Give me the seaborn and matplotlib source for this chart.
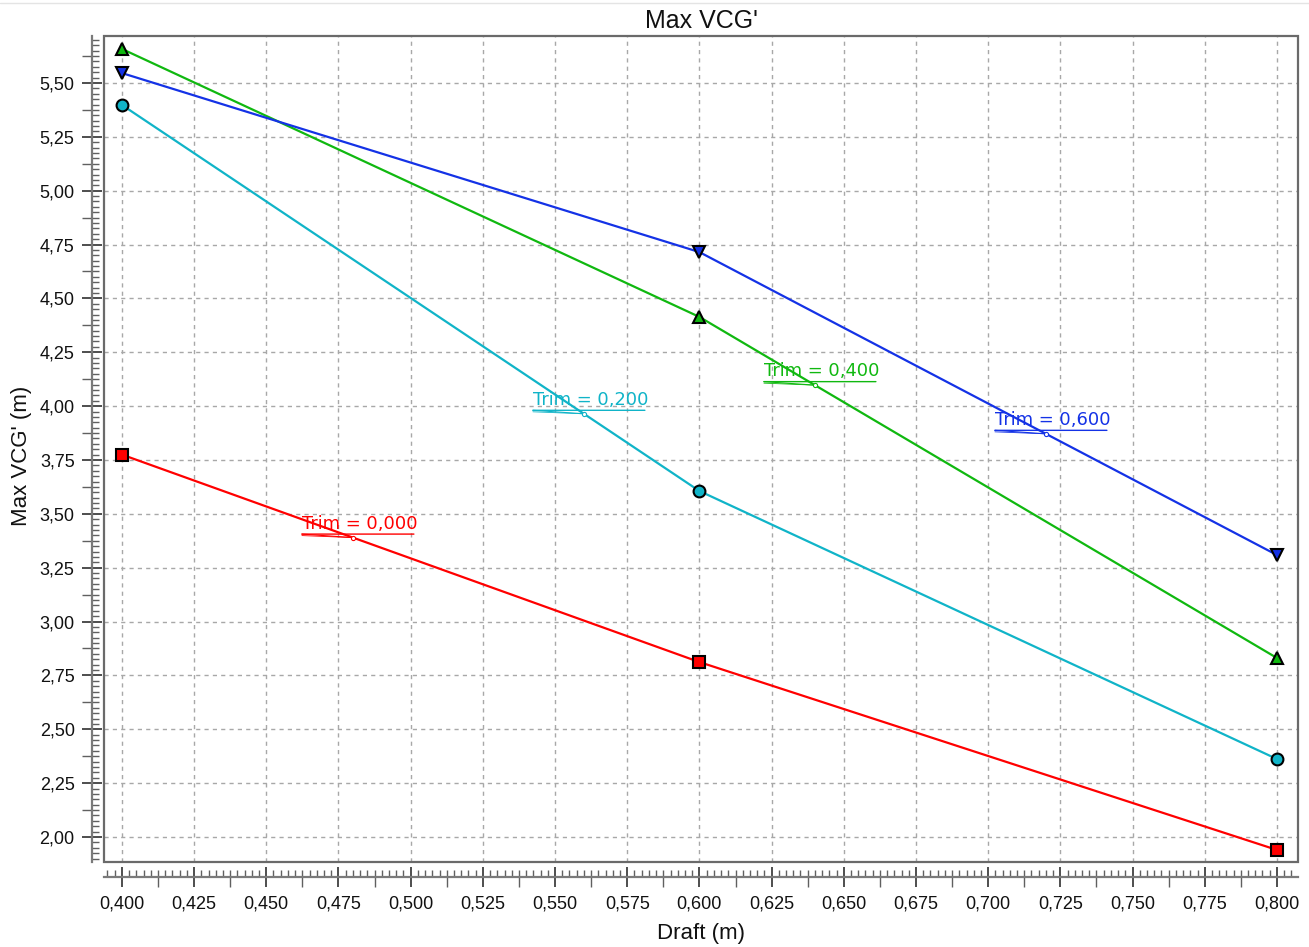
import numpy as np
import pandas as pd
import matplotlib
matplotlib.use("Agg")
import matplotlib.pyplot as plt
import seaborn as sns
from matplotlib.ticker import MultipleLocator, FuncFormatter, FixedLocator, NullFormatter
from matplotlib.transforms import offset_copy
from matplotlib.patches import Rectangle
from matplotlib.lines import Line2D

# Max VCG' against draft for four trim conditions
draft = [0.400, 0.600, 0.800]
trim_values = [0.000, 0.200, 0.400, 0.600]
vcg_trim_000 = [3.775, 2.812, 1.940]
vcg_trim_200 = [5.398, 3.606, 2.362]
vcg_trim_400 = [5.658, 4.414, 2.831]
vcg_trim_600 = [5.546, 4.715, 3.309]
label_drafts = [0.48, 0.56, 0.64, 0.72]

colors = ["#FF0000", "#10B4C8", "#10B810", "#1432E6"]
marker_styles = ["s", "o", "^", "v"]


def comma(v, dec):
    return f"{v:.{dec}f}".replace(".", ",")


trim_labels = [f"Trim = {comma(t, 3)}" for t in trim_values]
series = [vcg_trim_000, vcg_trim_200, vcg_trim_400, vcg_trim_600]

df = pd.DataFrame({
    "Trim": np.repeat(trim_labels, len(draft)),
    "Draft": np.tile(draft, len(trim_values)),
    "VCG": np.concatenate(series),
})

sns.set_theme(style="white")
plt.rcParams["font.family"] = ["Liberation Sans", "DejaVu Sans"]
plt.rcParams["text.color"] = "#111111"
plt.rcParams["axes.labelcolor"] = "#111111"

fig = plt.figure(figsize=(13.09, 9.47), dpi=100)
ax = fig.add_axes([104 / 1309, 1 - 862 / 947, 1194 / 1309, 826 / 947])

palette = dict(zip(trim_labels, colors))
markers = dict(zip(trim_labels, marker_styles))

sns.lineplot(data=df, x="Draft", y="VCG", hue="Trim", style="Trim",
             palette=palette, markers=markers, dashes=False, sort=False,
             markersize=8.5, markeredgecolor="black", markeredgewidth=1.5,
             linewidth=1.6, legend=False, ax=ax, zorder=3)

ax.set_xlim(0.3938, 0.8073)
ax.set_ylim(1.884, 5.718)

# grid and frame
ax.grid(True, which="major", color="#A8A8A8", linestyle=(0, (3, 3)), linewidth=1.0)
ax.add_patch(Rectangle((0, 0), 1, 1, transform=ax.transAxes, fill=False,
                       edgecolor="#6A6A6A", linewidth=1.6, clip_on=False, zorder=5))
for s in ["top", "right"]:
    ax.spines[s].set_visible(False)
ax.spines["left"].set_position(("outward", 12 * 0.72))
ax.spines["bottom"].set_position(("outward", 15 * 0.72))
for s in ["left", "bottom"]:
    ax.spines[s].set_color("#7A7A7A")
    ax.spines[s].set_linewidth(1.6)

# ticks
ax.xaxis.set_major_locator(MultipleLocator(0.025))
ax.xaxis.set_minor_locator(MultipleLocator(0.0025))
ax.yaxis.set_major_locator(MultipleLocator(0.25))
ax.yaxis.set_minor_locator(MultipleLocator(0.025))
ax.xaxis.set_major_formatter(FuncFormatter(lambda v, p: comma(v, 3)))
ax.yaxis.set_major_formatter(FuncFormatter(lambda v, p: comma(v, 2)))
ax.tick_params(axis="both", which="major", direction="inout", length=15,
               width=1.3, color="#404040", labelsize=13, labelcolor="#111111")
ax.tick_params(axis="both", which="minor", direction="in", length=5,
               width=1.0, color="#606060")
ax.tick_params(axis="x", which="major", pad=6, bottom=True)
ax.tick_params(axis="y", which="major", pad=5, left=True)
ax.tick_params(axis="x", which="minor", bottom=True)
ax.tick_params(axis="y", which="minor", left=True)

# intermediate (half-step) ticks pointing outward
xmid = np.arange(0.4125 - 0.025, 0.81, 0.025)
ymid = np.arange(1.875, 5.75, 0.25)
secx = ax.secondary_xaxis("bottom")
secx.spines["bottom"].set_position(("outward", 15 * 0.72))
secx.spines["bottom"].set_visible(False)
secx.xaxis.set_major_locator(FixedLocator(xmid))
secx.xaxis.set_major_formatter(NullFormatter())
secx.tick_params(axis="x", which="major", direction="out", length=7, width=1.0,
                 color="#606060")
secx.xaxis.set_minor_locator(FixedLocator([]))
secy = ax.secondary_yaxis("left")
secy.spines["left"].set_position(("outward", 12 * 0.72))
secy.spines["left"].set_visible(False)
secy.yaxis.set_major_locator(FixedLocator(ymid))
secy.yaxis.set_major_formatter(NullFormatter())
secy.tick_params(axis="y", which="major", direction="out", length=7, width=1.0,
                 color="#606060")
secy.yaxis.set_minor_locator(FixedLocator([]))

ax.set_title("Max VCG'", fontsize=18, pad=6, color="#111111")
ax.set_xlabel("Draft (m)", fontsize=16)
ax.set_ylabel("Max VCG' (m)", fontsize=16)
ax.xaxis.set_label_coords(0.5, -0.074)
ax.yaxis.set_label_coords(-0.0605, 0.4915)

# inline series labels with underline and leader line
for lbl, vals, c, xd in zip(trim_labels, series, colors, label_drafts):
    yd = float(np.interp(xd, draft, vals))
    ax.annotate(lbl, xy=(xd, yd), xytext=(-51, 9), textcoords="offset pixels",
                ha="left", va="baseline", color=c, fontsize=12.9,
                family=["DejaVu Sans"], zorder=6)
    ul_left = offset_copy(ax.transData, fig=fig, x=-51, y=3.5, units="dots")
    ul_right = offset_copy(ax.transData, fig=fig, x=61, y=3.5, units="dots")
    ax.annotate("", xy=(xd, yd), xycoords=ul_right, xytext=(xd, yd),
                textcoords=ul_left,
                arrowprops=dict(arrowstyle="-", color=c, lw=1.0,
                                shrinkA=0, shrinkB=0), zorder=6)
    ax.annotate("", xy=(xd, yd), xytext=(-51, 3.5), textcoords="offset pixels",
                arrowprops=dict(arrowstyle="-", color=c, lw=0.8,
                                shrinkA=0, shrinkB=0), zorder=6)
    ax.annotate("", xy=(xd, yd), xytext=(-51, 2), textcoords="offset pixels",
                arrowprops=dict(arrowstyle="-", color=c, lw=0.6,
                                shrinkA=0, shrinkB=0), zorder=6)
    ax.plot([xd], [yd], marker="o", markersize=3, markerfacecolor="white",
            markeredgecolor=c, markeredgewidth=0.8, zorder=7)

fig.add_artist(Line2D([0, 1], [1 - 3.5 / 947, 1 - 3.5 / 947],
                      transform=fig.transFigure, color="#E4E4E4", linewidth=1.0))

fig.savefig("out.png", dpi=100)
